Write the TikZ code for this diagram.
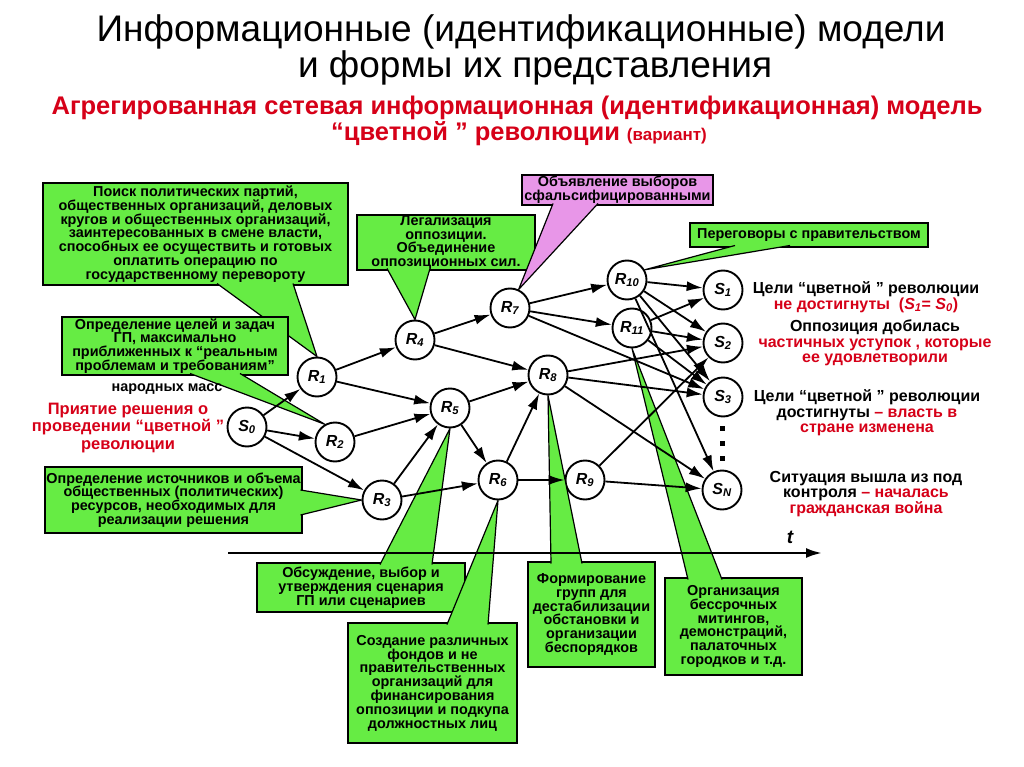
\documentclass[tikz,border=0pt]{standalone}
\usepackage{fontspec}
\setmainfont{Liberation Sans}
\usetikzlibrary{arrows.meta,calc}
\definecolor{boxgreen}{RGB}{102,236,68}
\definecolor{boxpink}{RGB}{232,150,232}
\definecolor{textred}{RGB}{214,0,24}
\def\callout[#1](#2)(#3)(#4){\filldraw[#1] (#2) -- (#4) -- (#3);}
\tikzset{
	state/.style={circle, draw, line width=1.9pt, fill=white, minimum size=39pt, inner sep=0pt, font=\fontsize{16}{16}\selectfont\bfseries\itshape},
	greenbox/.style={draw, line width=1.4pt, fill=boxgreen, align=center, inner sep=0pt, font=\fontsize{14.4}{13.8}\selectfont\bfseries},
	wedge/.style={fill=boxgreen, draw=black, line width=1.2pt, line join=round},
	link/.style={-{Latex[length=16pt,width=10pt]}, line width=1.8pt},
	remark/.style={align=center, font=\fontsize{16}{15.5}\selectfont\bfseries}
}

\begin{document}
\begin{tikzpicture}[x=1pt,y=-1pt]
			%%%%% START %%%%%
			\useasboundingbox[fill=white] (0,0) rectangle (1024,767);
			
			\node[font=\fontsize{37}{37}\selectfont] (title1) at (521,32) {Информационные (идентификационные) модели};
			\node[font=\fontsize{37}{37}\selectfont] (title2) at (535,68) {и формы их представления};
			\node[font=\fontsize{25.5}{25.5}\selectfont\bfseries, text=textred] (sub1) at (517,108) {Агрегированная сетевая информационная (идентификационная) модель};
			\node[font=\fontsize{25.5}{25.5}\selectfont\bfseries, text=textred] (sub2) at (519,134) {“цветной ” революции {\fontsize{17}{17}\selectfont(вариант)}};
			
			\node[state] (S0) at (247,427) {S\textsubscript{0}};
			\node[state] (R1) at (317,377) {R\textsubscript{1}};
			\node[state] (R2) at (335,442) {R\textsubscript{2}};
			\node[state] (R3) at (382,500) {R\textsubscript{3}};
			\node[state] (R4) at (415,340) {R\textsubscript{4}};
			\node[state] (R5) at (450,408) {R\textsubscript{5}};
			\node[state] (R6) at (498,480) {R\textsubscript{6}};
			\node[state] (R7) at (510,308) {R\textsubscript{7}};
			\node[state] (R8) at (548,375) {R\textsubscript{8}};
			\node[state] (R9) at (585,480) {R\textsubscript{9}};
			\node[state] (R10) at (627,280) {R\textsubscript{10}};
			\node[state] (R11) at (632,328) {R\textsubscript{11}};
			\node[state] (S1) at (723,290) {S\textsubscript{1}};
			\node[state] (S2) at (723,343) {S\textsubscript{2}};
			\node[state] (S3) at (723,397) {S\textsubscript{3}};
			\node[state] (SN) at (722,490) {S\textsubscript{N}};
			
			% green boxes with their pointers
			\node[greenbox, minimum width=305pt, minimum height=102pt] (search) at (195.5,234) {Поиск политических партий,\\общественных организаций, деловых\\кругов и общественных организаций,\\заинтересованных в смене власти,\\способных ее осуществить и готовых\\оплатить операцию по\\государственному перевороту};
			\callout[wedge](217,283.5)(293,283.5)(R1.north)
			
			\node[greenbox, minimum width=226pt, minimum height=58pt] (goals) at (175,346) {Определение целей и задач\\ГП, максимально\\приближенных к “реальным\\проблемам и требованиям”};
			\callout[wedge](190,373.5)(240,373.5)(R2.120)
			\node[remark, font=\fontsize{14.4}{14}\selectfont\bfseries] (masses) at (167,389) {народных масс};
			
			\node[greenbox, minimum width=257pt, minimum height=66pt] (sources) at (173.5,500) {Определение источников и объема\\общественных (политических)\\ресурсов, необходимых для\\реализации решения};
			\callout[wedge](300.5,490)(300.5,515)(R3.180)
			
			\node[greenbox, minimum width=178pt, minimum height=55pt] (legal) at (446,242.5) {Легализация\\оппозиции.\\Объединение\\оппозиционных сил.};
			\callout[wedge](387,268.5)(430,268.5)(R4.north)
			
			\node[greenbox, fill=boxpink, minimum width=191pt, minimum height=30pt] (elect) at (617.5,190) {Объявление выборов\\сфальсифицированными};
			\callout[wedge, fill=boxpink](553,203.5)(598,203.5)(R7.65)
			
			\node[greenbox, minimum width=238pt, minimum height=24pt] (talks) at (809,235) {Переговоры с правительством};
			\callout[wedge](735,245.5)(790,245.5)(R10.30)
			
			\node[greenbox, minimum width=208pt, minimum height=49pt] (scen) at (361,587.5) {Обсуждение, выбор и\\утверждения сценария\\ГП или сценариев};
			\callout[wedge](380,564.5)(432,564.5)(R5.south)
			
			\node[greenbox, minimum width=169pt, minimum height=120pt] (funds) at (432.5,683) {Создание различных\\фондов и не\\правительственных\\организаций для\\финансирования\\оппозиции и подкупа\\должностных лиц};
			\callout[wedge](447,624.5)(488,624.5)(R6.south)
			
			\node[greenbox, minimum width=127pt, minimum height=105pt] (groups) at (591.5,614.5) {Формирование\\групп для\\дестабилизации\\обстановки и\\организации\\беспорядков};
			\callout[wedge](551,563.5)(582,563.5)(R8.south)
			
			\node[greenbox, minimum width=137pt, minimum height=97pt] (rally) at (733.5,626.5) {Организация\\бессрочных\\митингов,\\демонстраций,\\палаточных\\городков и т.д.};
			\callout[wedge](688,579.5)(722,579.5)(R11.south)
			
			% arcs of the network
			\draw[link] (S0) -- (R1);
			\draw[link] (S0) -- (R2);
			\draw[link] (S0) -- (R3);
			\draw[link] (R1) -- (R4);
			\draw[link] (R1) -- (R5);
			\draw[link] (R2) -- (R5);
			\draw[link] (R3) -- (R5);
			\draw[link] (R3) -- (R6);
			\draw[link] (R4) -- (R7);
			\draw[link] (R4) -- (R8);
			\draw[link] (R5) -- (R8);
			\draw[link] (R5) -- (R6);
			\draw[link] (R6) -- (R8);
			\draw[link] (R6) -- (R9);
			\draw[link] (R7) -- (R10);
			\draw[link] (R7) -- (R11);
			\draw[link] (R7) -- (S3);
			\draw[link] (R8) -- (S2);
			\draw[link] (R8) -- (S3);
			\draw[link] (R8) -- (SN);
			\draw[link] (R9) -- (S2);
			\draw[link] (R9) -- (SN);
			\draw[link] (R10) -- (S1);
			\draw[link] (R10) -- (S2);
			\draw[link] (R10) -- (S3);
			\draw[link] (R10) -- (SN);
			\draw[link] (R11) -- (S1);
			\draw[link] (R11) -- (S2);
			\draw[link] (R11) -- (S3);
			
			\fill (719.5,425.5) rectangle (724.5,430.5);
			\fill (719.5,440.5) rectangle (724.5,445.5);
			\fill (719.5,455.5) rectangle (724.5,460.5);
			
			% time axis
			\coordinate (t0) at (228,553);
			\coordinate (t1) at (822,553);
			\draw[-{Latex[length=16pt,width=10pt]}, line width=2.5pt] (t0) -- (t1);
			\node[font=\fontsize{19}{19}\selectfont\bfseries\itshape] (tlab) at (790,537) {t};
			
			% outcomes
			\node[remark, text=textred, font=\fontsize{16.5}{17.5}\selectfont\bfseries] (decide) at (128,428) {Приятие решения о\\проведении “цветной ”\\революции};
			\node[remark] (out1) at (866,297) {Цели “цветной ” революции\\\textcolor{textred}{не достигнуты \ (\textit{S\textsubscript{1}}= \textit{S\textsubscript{0}})}};
			\node[remark] (out2) at (875,343) {Оппозиция добилась\\\textcolor{textred}{частичных уступок , которые}\\\textcolor{textred}{ее удовлетворили}};
			\node[remark] (out3) at (867,413) {Цели “цветной ” революции\\достигнуты \textcolor{textred}{– власть в}\\\textcolor{textred}{стране изменена}};
			\node[remark] (out4) at (866,494) {Ситуация вышла из под\\контроля \textcolor{textred}{– началась}\\\textcolor{textred}{гражданская война}};
			
			%%%%% END %%%%%
\end{tikzpicture}
\end{document}
